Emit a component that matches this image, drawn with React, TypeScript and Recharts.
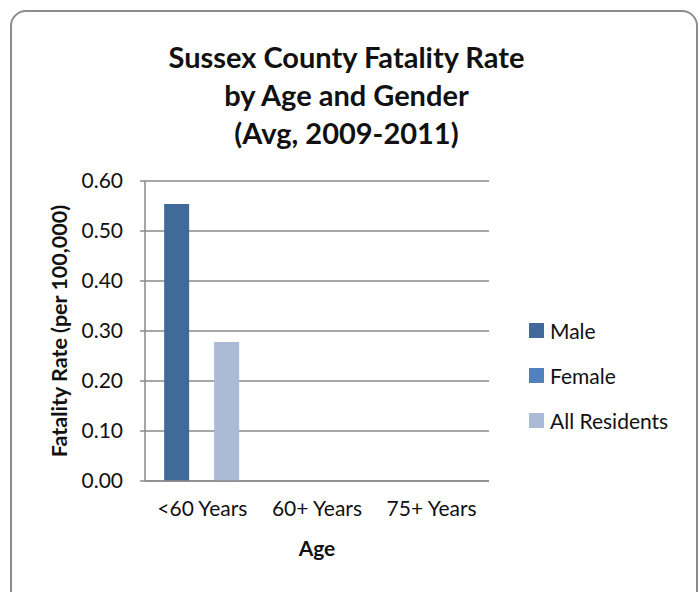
import { BarChart, Bar, XAxis, YAxis, CartesianGrid } from 'recharts';

const ageGroups = ['<60 Years', '60+ Years', '75+ Years'];
const maleRates = [0.554, 0, 0];
const femaleRates = [0, 0, 0];
const allResidentRates = [0.278, 0, 0];
const rateTicks = [0, 0.1, 0.2, 0.3, 0.4, 0.5, 0.6];

const seriesInfo = [
  { key: 'male', name: 'Male', color: '#416A9A' },
  { key: 'female', name: 'Female', color: '#4F81BD' },
  { key: 'all', name: 'All Residents', color: '#AABAD7' },
];

const chartData = ageGroups.map((age, i) => ({
  age,
  male: maleRates[i],
  female: femaleRates[i],
  all: allResidentRates[i],
}));

const FONT = 'Lato, "Open Sans", sans-serif';
const GRID = '#8a8a8a';

// legend drawn outside the chart so it doesn't steal plot width
const LegendBox = () => (
  <div style={{ position: 'absolute', left: 529, top: 308, fontFamily: FONT, fontSize: 21, color: '#111' }}>
    {seriesInfo.map((s) => (
      <div key={s.key} style={{ display: 'flex', alignItems: 'center', height: 45 }}>
        <span style={{ width: 15, height: 15, background: s.color, marginRight: 6 }} />
        <span>{s.name}</span>
      </div>
    ))}
  </div>
);

export default function App() {
  return (
    <div style={{ position: 'absolute', left: 0, top: 0, width: 700, height: 592, overflow: 'hidden', background: '#fff' }}>
      <div
        style={{
          position: 'absolute',
          left: 10,
          top: 10,
          width: 688,
          height: 620,
          border: '2px solid #8c8c8c',
          borderRadius: 16,
          boxSizing: 'border-box',
        }}
      />
      <div
        style={{
          position: 'absolute',
          left: 0,
          top: 38,
          width: 693,
          textAlign: 'center',
          fontFamily: FONT,
          fontWeight: 700,
          fontSize: 29,
          lineHeight: '38px',
          color: '#111',
        }}
      >
        <div>Sussex County Fatality Rate</div>
        <div>by Age and Gender</div>
        <div>(Avg, 2009-2011)</div>
      </div>
      <BarChart
        width={700}
        height={592}
        data={chartData}
        margin={{ top: 181, right: 211, bottom: 41, left: 60 }}
        barCategoryGap="16.7%"
        barGap={0}
        style={{ position: 'absolute', left: 0, top: 0 }}
      >
        <CartesianGrid vertical={false} stroke={GRID} strokeWidth={1.5} />
        <XAxis
          dataKey="age"
          height={70}
          interval={0}
          axisLine={{ stroke: GRID, strokeWidth: 1.5 }}
          tickLine={false}
          tickMargin={14}
          tick={{ fill: '#111', fontSize: 21, fontFamily: FONT }}
          label={{
            content: ({ viewBox }: any) => (
              <text
                x={viewBox.x + viewBox.width / 2}
                y={viewBox.y + 75}
                textAnchor="middle"
                fontFamily={FONT}
                fontWeight={700}
                fontSize={21}
                fill="#111"
              >
                Age
              </text>
            ),
          }}
        />
        <YAxis
          width={85}
          domain={[0, 0.6]}
          ticks={rateTicks}
          interval={0}
          tickFormatter={(v: number) => v.toFixed(2)}
          axisLine={{ stroke: GRID, strokeWidth: 1.5 }}
          tickLine={{ stroke: GRID, strokeWidth: 1.5 }}
          tickSize={5}
          tickMargin={17}
          tick={{ fill: '#111', fontSize: 21, fontFamily: FONT }}
          label={{
            content: ({ viewBox }: any) => {
              const cx = viewBox.x - 1;
              const cy = viewBox.y + viewBox.height / 2;
              return (
                <text
                  x={cx}
                  y={cy}
                  transform={`rotate(-90 ${cx} ${cy})`}
                  textAnchor="middle"
                  dominantBaseline="central"
                  fontFamily={FONT}
                  fontWeight={700}
                  fontSize={21.5}
                  fill="#111"
                >
                  Fatality Rate (per 100,000)
                </text>
              );
            },
          }}
        />
        {seriesInfo.map((s) => (
          <Bar key={s.key} dataKey={s.key} name={s.name} fill={s.color} isAnimationActive={false} />
        ))}
      </BarChart>
      <LegendBox />
    </div>
  );
}
